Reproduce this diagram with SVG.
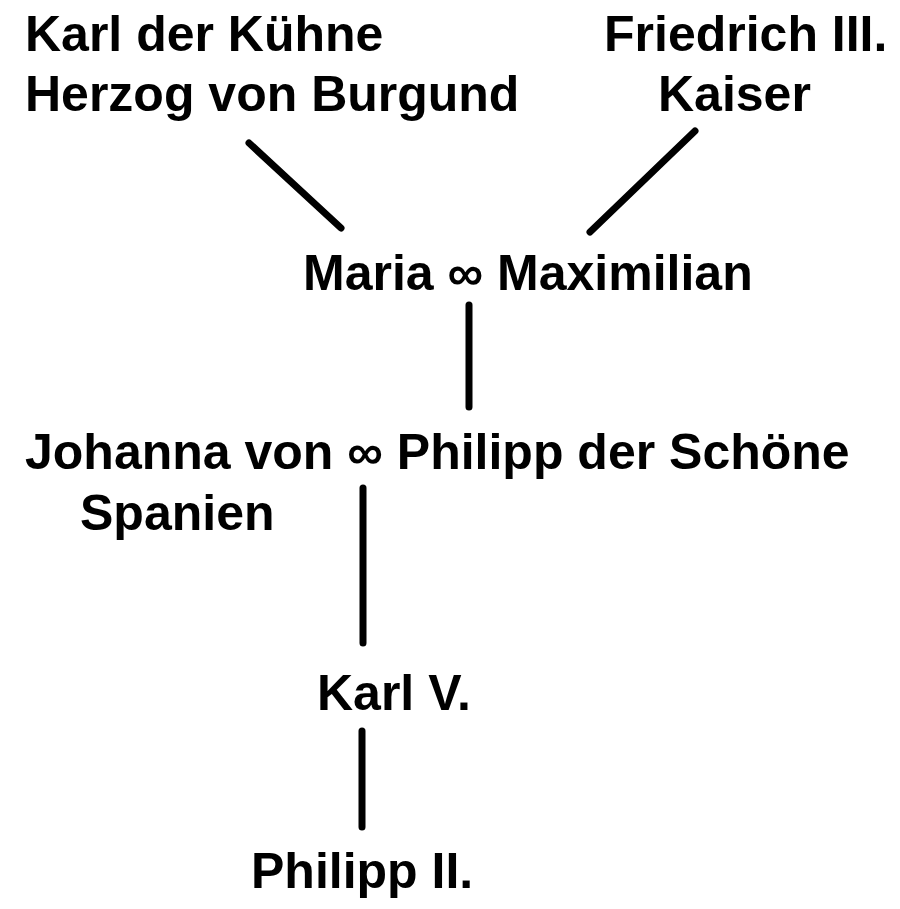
<svg xmlns="http://www.w3.org/2000/svg" width="900" height="909" viewBox="0 0 900 909">
<style>
text { font-family: "Liberation Sans", Arial, sans-serif; font-weight: bold; font-size: 50px; fill: #000; }
.c { stroke: #000; stroke-width: 7; stroke-linecap: round; fill: none; }
</style>
<rect width="900" height="909" fill="#fff"/>
<g id="karl-der-kuehne">
<text x="25" y="51">Karl der Kühne</text>
<text x="25" y="111">Herzog von Burgund</text>
</g>
<g id="friedrich">
<text x="604" y="51">Friedrich III.</text>
<text x="658" y="111">Kaiser</text>
</g>
<g id="maria-maximilian">
<text x="303" y="290">Maria ∞ Maximilian</text>
</g>
<g id="johanna-philipp">
<text x="25" y="469">Johanna von ∞ Philipp der Schöne</text>
<text x="80" y="530">Spanien</text>
</g>
<g id="karl-v">
<text x="317" y="710">Karl V.</text>
</g>
<g id="philipp-ii">
<text x="251" y="888">Philipp II.</text>
</g>
<g id="connectors">
<line class="c" x1="249" y1="143" x2="341" y2="228"/>
<line class="c" x1="695" y1="131" x2="590" y2="232"/>
<line class="c" x1="469" y1="305" x2="469" y2="407"/>
<line class="c" x1="363" y1="488" x2="363" y2="643"/>
<line class="c" x1="362" y1="731" x2="362" y2="827"/>
</g>
</svg>
